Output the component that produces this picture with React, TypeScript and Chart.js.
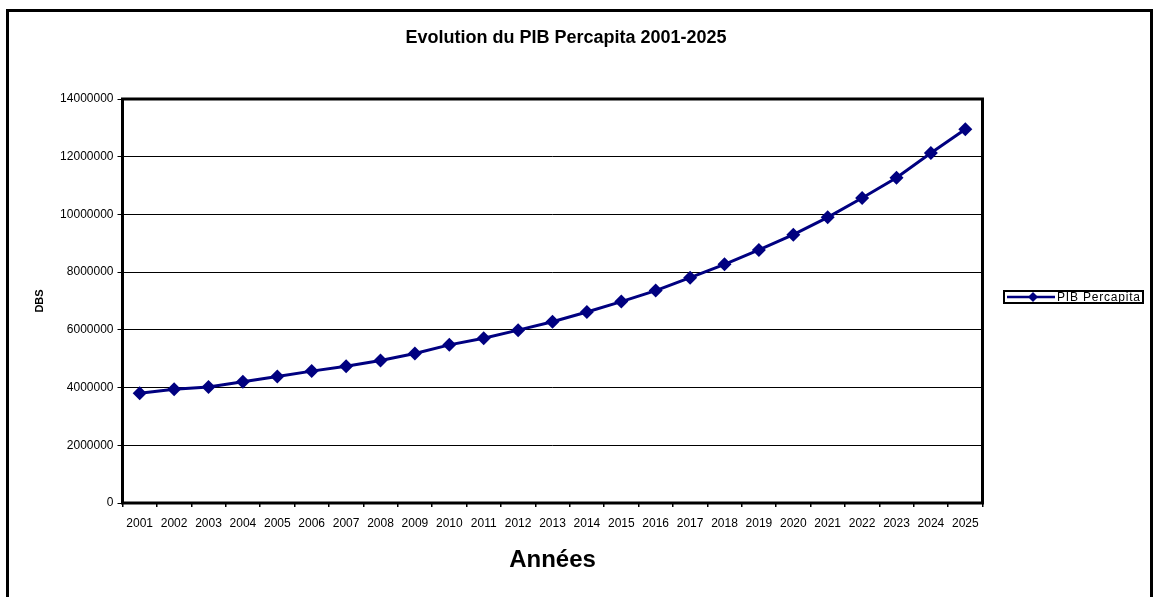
import React, { useEffect, useRef } from "react";
import { Chart, registerables } from "chart.js";

Chart.register(...registerables);

const TITLE = "Evolution du PIB Percapita 2001-2025";
const SERIES_LABEL = "PIB Percapita";
const X_TITLE = "Années";
const Y_TITLE = "DBS";

const years: string[] = [
  "2001", "2002", "2003", "2004", "2005", "2006", "2007", "2008", "2009", "2010",
  "2011", "2012", "2013", "2014", "2015", "2016", "2017", "2018", "2019", "2020",
  "2021", "2022", "2023", "2024", "2025",
];

const pibPercapita: number[] = [
  3800000, 3940000, 4020000, 4200000, 4380000, 4570000, 4740000, 4940000, 5180000, 5480000,
  5710000, 5990000, 6280000, 6620000, 6980000, 7360000, 7810000, 8270000, 8770000, 9300000,
  9900000, 10570000, 11270000, 12130000, 12950000,
];

const Y_MIN = 0;
const Y_MAX = 14000000;
const Y_STEP = 2000000;

const NAVY = "#000080";
const FONT = "'Liberation Sans', Arial, sans-serif";

const framePlugin = {
  id: "framePlugin",
  beforeDatasetsDraw(chart: any) {
    const { ctx, chartArea } = chart;
    ctx.save();
    ctx.strokeStyle = "#000";
    ctx.lineWidth = 3;
    ctx.strokeRect(chartArea.left, chartArea.top, chartArea.right - chartArea.left, chartArea.bottom - chartArea.top);
    ctx.restore();
  },
  afterDraw(chart: any) {
    const { ctx } = chart;
    ctx.save();
    // outer frame
    ctx.strokeStyle = "#000";
    ctx.lineWidth = 3;
    ctx.beginPath();
    ctx.moveTo(7.5, 700);
    ctx.lineTo(7.5, 10.5);
    ctx.lineTo(1151.5, 10.5);
    ctx.lineTo(1151.5, 700);
    ctx.stroke();

    // title
    ctx.fillStyle = "#000";
    ctx.font = `bold 18px ${FONT}`;
    ctx.textAlign = "center";
    ctx.textBaseline = "middle";
    ctx.fillText(TITLE, 566, 38);

    // legend
    const ds = chart.data.datasets[0];
    ctx.lineWidth = 2;
    ctx.strokeStyle = "#000";
    ctx.strokeRect(1004, 291, 139, 12);
    ctx.strokeStyle = NAVY;
    ctx.lineWidth = 2.5;
    ctx.beginPath();
    ctx.moveTo(1007, 297);
    ctx.lineTo(1055, 297);
    ctx.stroke();
    ctx.fillStyle = NAVY;
    ctx.beginPath();
    ctx.moveTo(1033, 292);
    ctx.lineTo(1038, 297);
    ctx.lineTo(1033, 302);
    ctx.lineTo(1028, 297);
    ctx.closePath();
    ctx.fill();
    ctx.fillStyle = "#000";
    ctx.font = `12px ${FONT}`;
    ctx.textAlign = "left";
    ctx.textBaseline = "middle";
    try { (ctx as any).letterSpacing = "0.8px"; } catch (e) {}
    ctx.fillText(ds.label, 1057, 297.5);
    ctx.restore();
  },
};

export default function App() {
  const ref = useRef<HTMLCanvasElement>(null);

  useEffect(() => {
    if (!ref.current) return;
    const chart = new Chart(ref.current, {
      type: "line",
      data: {
        labels: years,
        datasets: [
          {
            label: SERIES_LABEL,
            data: pibPercapita,
            borderColor: NAVY,
            backgroundColor: NAVY,
            borderWidth: 3,
            pointStyle: "rectRot",
            pointRadius: 7,
            pointBorderWidth: 0,
            pointBackgroundColor: NAVY,
            tension: 0,
            fill: false,
          },
        ],
      },
      options: {
        responsive: false,
        animation: false,
        devicePixelRatio: 1,
        layout: { padding: { left: 20, right: 171.5, top: 99, bottom: 22 } },
        plugins: {
          legend: { display: false },
          title: { display: false },
          tooltip: { enabled: false },
        },
        scales: {
          x: {
            type: "category",
            offset: true,
            afterFit: (s: any) => { s.height = 72; },
            grid: {
              offset: true,
              drawOnChartArea: false,
              drawTicks: true,
              tickLength: 4,
              color: "#000",
              lineWidth: 1.5,
            },
            border: { display: false },
            ticks: {
              color: "#000",
              font: { family: FONT, size: 12 },
              padding: 9,
              maxRotation: 0,
              autoSkip: false,
            },
            title: {
              display: true,
              text: X_TITLE,
              color: "#000",
              font: { family: FONT, size: 24, weight: "bold" },
              padding: { top: 0, bottom: 0 },
            },
          },
          y: {
            min: Y_MIN,
            max: Y_MAX,
            afterFit: (s: any) => { s.width = 102.5; },
            grid: {
              color: "#000",
              lineWidth: 1,
              drawTicks: true,
              tickLength: 5,
            },
            border: { display: false },
            ticks: {
              stepSize: Y_STEP,
              color: "#000",
              font: { family: FONT, size: 12 },
              padding: 4,
              callback: (v: any) => String(v),
            },
            title: {
              display: true,
              text: Y_TITLE,
              color: "#000",
              font: { family: FONT, size: 11, weight: "bold" },
              padding: { top: 13, bottom: 0 },
            },
          },
        },
      },
      plugins: [framePlugin],
    });
    return () => chart.destroy();
  }, []);

  return (
    <div style={{ position: "absolute", left: 0, top: 0, width: 1154, height: 597, overflow: "hidden", background: "#fff" }}>
      <canvas ref={ref} width={1154} height={597} style={{ display: "block" }} />
    </div>
  );
}
